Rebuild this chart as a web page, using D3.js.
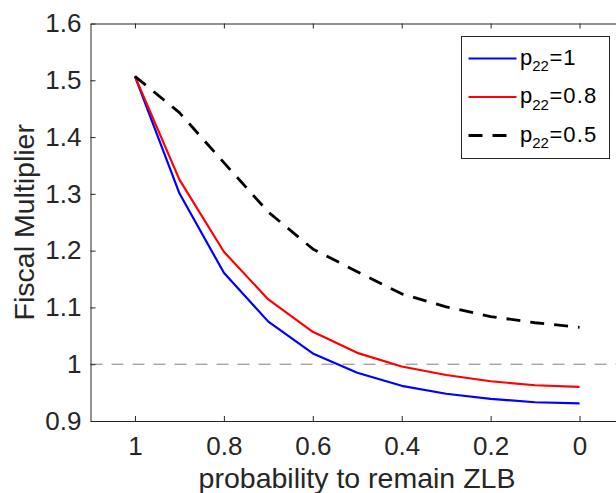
<!DOCTYPE html>
<html>
<head>
<meta charset="utf-8">
<script src="https://cdn.jsdelivr.net/npm/d3@7"></script>
<style>
  body { margin: 0; background: #fff; }
  svg text { font-family: Helvetica, Arial, "Liberation Sans", sans-serif; fill: #262626; }
</style>
</head>
<body>
<div id="chart"></div>
<script>
var svgWidth = 616
var svgHeight = 493

var margin = {top: 23.5, left: 90.5, bottom: 72, right: -8}
var plotWidth = svgWidth - margin.left - margin.right
var plotHeight = svgHeight - margin.top - margin.bottom

// data
var probs = [1, 0.9, 0.8, 0.7, 0.6, 0.5, 0.4, 0.3, 0.2, 0.1, 0]
var p22_1 = [1.507, 1.301, 1.161, 1.075, 1.019, 0.985, 0.962, 0.948, 0.939, 0.933, 0.931]
var p22_08 = [1.507, 1.325, 1.198, 1.114, 1.057, 1.020, 0.996, 0.981, 0.970, 0.963, 0.960]
var p22_05 = [1.507, 1.443, 1.355, 1.268, 1.203, 1.163, 1.124, 1.101, 1.084, 1.073, 1.065]
var xTicks = [1, 0.8, 0.6, 0.4, 0.2, 0]
var yTicks = [0.9, 1, 1.1, 1.2, 1.3, 1.4, 1.5, 1.6]
var refLine = 1

var series = [
  {label: "1", values: p22_1, color: "#0000ff", width: 2.2, dash: null},
  {label: "0.8", values: p22_08, color: "#ff0000", width: 2.2, dash: null},
  {label: "0.5", values: p22_05, color: "#000000", width: 2.8, dash: "14,10"}
]

var svg = d3.select("#chart")
  .append("svg")
  .attr("width", svgWidth)
  .attr("height", svgHeight)

var chartGroup = svg.append("g")
  .attr("transform", `translate(${margin.left}, ${margin.top})`)

var xScale = d3.scaleLinear().domain([1.1, -0.1]).range([0, plotWidth])
var yScale = d3.scaleLinear().domain([0.9, 1.6]).range([plotHeight, 0])

// reference line at 1
chartGroup.append("line")
  .attr("x1", 0).attr("x2", plotWidth)
  .attr("y1", yScale(refLine)).attr("y2", yScale(refLine))
  .attr("stroke", "#808080")
  .attr("stroke-width", 1)
  .attr("stroke-dasharray", "12,9")

// axes (ticks point inward like matlab)
var xAxis = chartGroup.append("g")
  .attr("transform", `translate(0, ${plotHeight})`)
  .call(d3.axisBottom(xScale).tickValues(xTicks).tickFormat(d => String(d))
    .tickSizeInner(-5).tickSizeOuter(0).tickPadding(15.5))

var topAxis = chartGroup.append("g")
  .call(d3.axisTop(xScale).tickValues(xTicks).tickFormat("")
    .tickSizeInner(-5).tickSizeOuter(0))

var yAxis = chartGroup.append("g")
  .call(d3.axisLeft(yScale).tickValues(yTicks).tickFormat(d => String(d))
    .tickSizeInner(-5).tickSizeOuter(0).tickPadding(9))

chartGroup.selectAll(".domain").attr("stroke", "#262626")
chartGroup.selectAll(".tick line").attr("stroke", "#262626")
chartGroup.selectAll(".tick text").attr("font-size", 26).style("fill", "#262626")

// the lines
var line = d3.line()
  .x((d, i) => xScale(probs[i]))
  .y(d => yScale(d))

series.forEach(function(s) {
  chartGroup.append("path")
    .datum(s.values)
    .attr("fill", "none")
    .attr("stroke", s.color)
    .attr("stroke-width", s.width)
    .attr("stroke-dasharray", s.dash)
    .attr("stroke-linejoin", "round")
    .attr("d", line)
})

// axis labels
chartGroup.append("text")
  .attr("transform", "rotate(-90)")
  .attr("x", -plotHeight / 2)
  .attr("y", -margin.left + 33.5)
  .attr("text-anchor", "middle")
  .attr("font-size", 28.5)
  .text("Fiscal Multiplier")

svg.append("text")
  .attr("x", 357)
  .attr("y", 488)
  .attr("text-anchor", "middle")
  .attr("font-size", 28.5)
  .text("probability to remain ZLB")

// legend
var legend = svg.append("g").attr("transform", "translate(461.5, 36.5)")
legend.append("rect")
  .attr("width", 148).attr("height", 122)
  .attr("fill", "#fff")
  .attr("stroke", "#262626")
  .attr("stroke-width", 1)

series.forEach(function(s, i) {
  var cy = 22 + i * 38.5
  legend.append("line")
    .attr("x1", 7).attr("x2", 55)
    .attr("y1", cy).attr("y2", cy)
    .attr("stroke", s.color)
    .attr("stroke-width", s.width)
    .attr("stroke-dasharray", s.dash)
  var t = legend.append("text")
    .attr("x", 58.5)
    .attr("y", cy + 6)
    .attr("font-size", 22)
    .style("fill", "#000")
  t.append("tspan").text("p")
  t.append("tspan").attr("font-size", 15).attr("dy", 6.5).text("22")
  t.append("tspan").attr("dy", -6.5).attr("dx", 0.5).text("=")
  t.append("tspan").attr("dx", 1).attr("letter-spacing", 1.2).text(s.label)
})
</script>
</body>
</html>
